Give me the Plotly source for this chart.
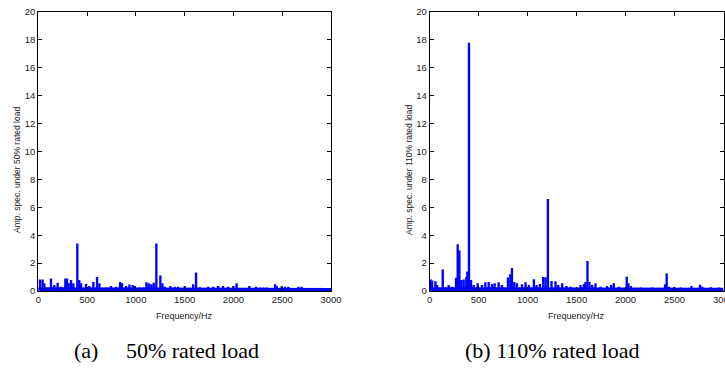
import plotly.graph_objects as go

# ---------------- data ----------------
x_ticks = [0, 500, 1000, 1500, 2000, 2500, 3000]
y_ticks = [0, 2, 4, 6, 8, 10, 12, 14, 16, 18, 20]

# 50% rated load: spectral lines
freq_50 = [17, 44, 62, 130, 164, 198, 232, 277, 294, 311, 335, 359, 400, 420, 438,
           489, 523, 564, 602, 626, 694, 745, 797, 838, 858, 899, 934, 968, 988,
           1039, 1080, 1108, 1132, 1159, 1183, 1210, 1251, 1272, 1296, 1354, 1398,
           1433, 1501, 1587, 1617, 1655, 1740, 1792, 1843, 1894, 1946, 1999, 2033,
           2163, 2232, 2273, 2307, 2341, 2427, 2444, 2495, 2529, 2563, 2666, 2700, 2888]
amp_50 = [0.83, 0.83, 0.55, 0.9, 0.43, 0.6, 0.3, 0.9, 0.9, 0.55, 0.78, 0.55, 3.4, 0.78, 0.55,
          0.5, 0.35, 0.65, 1.0, 0.55, 0.25, 0.35, 0.3, 0.65, 0.55, 0.35, 0.47, 0.43, 0.35,
          0.25, 0.25, 0.62, 0.55, 0.48, 0.6, 3.4, 1.12, 0.55, 0.3, 0.35, 0.3,
          0.3, 0.35, 0.48, 1.32, 0.27, 0.3, 0.3, 0.35, 0.35, 0.3, 0.35, 0.55,
          0.35, 0.3, 0.25, 0.25, 0.25, 0.48, 0.35, 0.35, 0.3, 0.3, 0.3, 0.3, 0.22]

# 110% rated load: spectral lines
freq_110 = [7, 24, 58, 75, 133, 160, 194, 228, 269, 286, 303, 323, 347, 374, 384, 401,
            422, 449, 490, 534, 568, 602, 636, 663, 704, 738, 799, 823, 840, 864, 891,
            942, 979, 1013, 1064, 1091, 1125, 1159, 1183, 1207, 1244, 1285, 1312, 1353,
            1397, 1438, 1540, 1574, 1591, 1611, 1632, 1659, 1693, 1744, 1812, 1853,
            1880, 1931, 2012, 2029, 2053, 2155, 2274, 2403, 2420, 2444, 2495, 2563,
            2672, 2760, 2784, 2869, 2954]
amp_110 = [0.85, 0.75, 0.7, 0.43, 1.55, 0.25, 0.43, 0.3, 0.95, 3.35, 2.9, 0.78, 0.83, 1.0, 1.4, 17.8,
           0.78, 0.43, 0.55, 0.43, 0.62, 0.65, 0.5, 0.55, 0.62, 0.43, 0.97, 1.2, 1.65, 0.65, 0.55,
           0.48, 0.62, 0.43, 0.85, 0.43, 0.5, 1.0, 0.98, 6.6, 0.72, 0.7, 0.43, 0.55,
           0.35, 0.3, 0.43, 0.5, 0.65, 2.15, 0.65, 0.43, 0.55, 0.3, 0.35, 0.43,
           0.55, 0.3, 1.02, 0.55, 0.35, 0.25, 0.25, 0.48, 1.25, 0.3, 0.27, 0.25,
           0.35, 0.45, 0.3, 0.27, 0.25]

# noise floor
floor_freq = [0, 500, 1000, 1500, 2000, 2500, 3000]
floor_50 = [0.22, 0.22, 0.2, 0.18, 0.17, 0.17, 0.17]
floor_110 = [0.22, 0.22, 0.22, 0.2, 0.18, 0.18, 0.18]

captions = ["(a)\u00a0\u00a0\u00a0\u00a0 50% rated load", "(b) 110% rated load"]
y_titles = ["Amp. spec. under 50% rated load", "Amp. spec. under 110% rated load"]
x_title = "Frequency/Hz"

BLUE = "#0000FF"
W, H = 725, 372


def px(x):
    return x / W


def py(y):
    return (H - y) / H


fig = go.Figure()

series = [(freq_50, amp_50, floor_50), (freq_110, amp_110, floor_110)]
for i, (fq, am, fl) in enumerate(series):
    xa = "x" if i == 0 else "x2"
    ya = "y" if i == 0 else "y2"
    fig.add_trace(go.Scatter(x=floor_freq, y=fl, mode="lines", fill="tozeroy",
                             line=dict(color=BLUE, width=1.5), fillcolor=BLUE,
                             xaxis=xa, yaxis=ya, showlegend=False, hoverinfo="skip"))
    fig.add_trace(go.Bar(x=fq, y=am, width=24, marker=dict(color=BLUE, line=dict(width=0)),
                         xaxis=xa, yaxis=ya, showlegend=False))

# pixel layout (screen coordinates of the reference)
left_dom = [px(38.3), px(331.0)]
right_dom = [px(429.7), px(723.5)]
y_dom = [py(291.0), py(12.0)]

tickfont = dict(family="Liberation Sans, Arial", size=9.5, color="#222")
common_x = dict(range=[0, 3000], tickvals=x_ticks, ticks="inside", ticklen=4, tickcolor="black",
                showline=True, linecolor="black", linewidth=1, mirror="ticks",
                showgrid=False, zeroline=False, tickfont=tickfont, fixedrange=True,
                automargin=False, ticklabeloverflow="allow")
common_y = dict(range=[0, 20], tickvals=y_ticks, ticks="inside", ticklen=4, tickcolor="black",
                showline=True, linecolor="black", linewidth=1, mirror="ticks",
                showgrid=False, zeroline=False, tickfont=tickfont, fixedrange=True,
                automargin=False, ticklabeloverflow="allow")

fig.update_layout(
    width=W, height=H, margin=dict(l=0, r=0, t=0, b=0, autoexpand=False),
    paper_bgcolor="white", plot_bgcolor="white", barmode="overlay",
    xaxis=dict(domain=left_dom, anchor="y", **common_x),
    yaxis=dict(domain=y_dom, anchor="x", **common_y),
    xaxis2=dict(domain=right_dom, anchor="y2", **common_x),
    yaxis2=dict(domain=y_dom, anchor="x2", **common_y),
)

lab_font = dict(family="Liberation Sans, Arial", size=9, color="#222")
cap_font = dict(family="Liberation Serif, Times New Roman", size=22, color="black")
centers = [(38.3 + 331.0) / 2, (429.7 + 723.5) / 2]
ytitle_x = [17, 409]
cap_x = [166, 552]
for i in range(2):
    fig.add_annotation(x=px(centers[i]), y=py(316), xref="paper", yref="paper",
                       text=x_title, showarrow=False, font=lab_font,
                       xanchor="center", yanchor="middle")
    fig.add_annotation(x=px(ytitle_x[i]), y=py(170), xref="paper", yref="paper",
                       text=y_titles[i], showarrow=False, font=dict(lab_font, size=8.5),
                       textangle=-90, xanchor="center", yanchor="middle")
    fig.add_annotation(x=px(cap_x[i]), y=py(350), xref="paper", yref="paper",
                       text=captions[i], showarrow=False, font=cap_font,
                       xanchor="center", yanchor="middle")

fig.write_html(
    "out.html",
    config={"displayModeBar": False},
    post_script="document.body.style.margin='0px';document.body.style.overflow='hidden';",
)
